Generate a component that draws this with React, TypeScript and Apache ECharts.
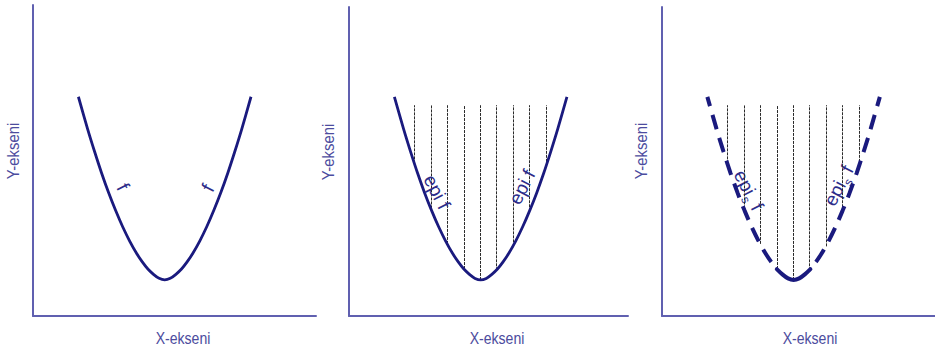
import React, { useEffect, useRef } from "react";
import * as echarts from "echarts";

// Shared convex function f (same in all three panels)
const curveX = [1.62, 1.95, 2.2, 2.45, 2.7, 2.95, 3.2, 3.45, 3.7, 3.9, 4.1, 4.3, 4.5, 4.7, 4.9, 5.1, 5.3, 5.5, 5.7, 5.95, 6.2, 6.45, 6.7, 6.95, 7.2, 7.45, 7.78];
const curveY = [7.05, 6.01, 5.28, 4.59, 3.96, 3.39, 2.87, 2.41, 2.01, 1.74, 1.51, 1.34, 1.21, 1.16, 1.21, 1.34, 1.51, 1.74, 2.01, 2.41, 2.87, 3.39, 3.96, 4.59, 5.28, 6.01, 7.05];

// Hatching of the epigraph (vertical dotted lines)
const hatchX = [2.33, 2.92, 3.5, 4.1, 4.68, 5.26, 5.85, 6.44, 7.04];
const hatchBottom = [4.91, 3.46, 2.32, 1.51, 1.16, 1.47, 2.24, 3.37, 4.83];
const hatchTop = 6.78;

// Solid bottom piece of the dashed curve in panel 3 (indices into curve arrays)
const bottomStart = 10;
const bottomEnd = 16;

const xAxisName = "X-ekseni";
const yAxisName = "Y-ekseni";

const CURVE = "#1a1a7e";
const AXIS = "#6060b0";
const NAME = "#4c4c9e";
const LABEL = "#2c2c8a";
const FONT = "'Liberation Sans', Arial, sans-serif";

const pts = (from: number, to: number) => {
  const out: number[][] = [];
  for (let i = from; i <= to; i++) out.push([curveX[i], curveY[i]]);
  return out;
};

export default function App() {
  const ref = useRef<HTMLDivElement>(null);

  useEffect(() => {
    if (!ref.current) return;
    const chart = echarts.init(ref.current, undefined, { renderer: "svg" });

    const grids = [
      { left: 33, top: 5, width: 283, height: 311 },
      { left: 349, top: 7, width: 279, height: 309 },
      { left: 662, top: 7, width: 273, height: 309 },
    ];
    const xMax = [10.1, 9.96, 9.75];
    const yMax = [10, 9.94, 9.94];

    const xAxes = grids.map((_, i) => ({
      type: "value",
      gridIndex: i,
      min: 0,
      max: xMax[i],
      axisLine: { show: true, onZero: false, lineStyle: { color: AXIS, width: 2 } },
      axisTick: { show: false },
      axisLabel: { show: false },
      splitLine: { show: false },
    }));
    const yAxes = grids.map((_, i) => ({
      type: "value",
      gridIndex: i,
      min: 0,
      max: yMax[i],
      axisLine: { show: true, onZero: false, lineStyle: { color: AXIS, width: 2 } },
      axisTick: { show: false },
      axisLabel: { show: false },
      splitLine: { show: false },
    }));

    const hatchData = hatchX.map((x, i) => ({ coords: [[x, hatchBottom[i]], [x, hatchTop]] }));
    const hatchSeries = (idx: number) => ({
      type: "lines",
      coordinateSystem: "cartesian2d",
      xAxisIndex: idx,
      yAxisIndex: idx,
      z: 1,
      silent: true,
      lineStyle: { color: "#2a2a2a", width: 1, type: [3, 1], opacity: 1 },
      data: hatchData,
    });

    const curveSeries = (idx: number, data: number[][], style: any) => ({
      type: "line",
      xAxisIndex: idx,
      yAxisIndex: idx,
      z: 3,
      smooth: 0.3,
      showSymbol: false,
      silent: true,
      lineStyle: style,
      data,
    });

    const leftDashed = pts(0, bottomStart).reverse();
    const rightDashed = pts(bottomEnd, curveX.length - 1);

    const series = [
      curveSeries(0, pts(0, curveX.length - 1), { color: CURVE, width: 2.8 }),
      hatchSeries(1),
      curveSeries(1, pts(0, curveX.length - 1), { color: CURVE, width: 2.8 }),
      hatchSeries(2),
      curveSeries(2, pts(bottomStart, bottomEnd), { color: CURVE, width: 4, cap: "round" }),
      curveSeries(2, leftDashed, { color: CURVE, width: 4, type: [15, 9], dashOffset: 15 }),
      curveSeries(2, rightDashed, { color: CURVE, width: 4, type: [15, 9], dashOffset: 15 }),
    ];

    const nameText = (text: string, x: number, y: number, rotation: number, scale: number) => ({
      type: "text",
      x,
      y,
      rotation,
      scaleX: scale,
      silent: true,
      style: {
        text,
        fill: NAME,
        fontSize: 16,
        fontFamily: FONT,
        textAlign: "center",
        textVerticalAlign: "middle",
      },
    });

    const label = (text: string, x: number, y: number, rotation: number) => ({
      type: "text",
      x,
      y,
      rotation,
      silent: true,
      z: 10,
      style: {
        text,
        fill: LABEL,
        fontSize: 19,
        fontFamily: FONT,
        textAlign: "center",
        textVerticalAlign: "middle",
      },
    });

    const subLabel = (x: number, y: number, rotation: number) => ({
      type: "group",
      x,
      y,
      rotation,
      silent: true,
      z: 10,
      children: [
        {
          type: "text",
          x: -22,
          y: 0,
          style: { text: "epi", fill: LABEL, fontSize: 19, fontFamily: FONT, textAlign: "left", textVerticalAlign: "middle" },
        },
        {
          type: "text",
          x: 3.5,
          y: 7,
          style: { text: "s", fill: LABEL, fontSize: 12, fontFamily: FONT, textAlign: "left", textVerticalAlign: "middle" },
        },
        {
          type: "text",
          x: 10,
          y: 0,
          style: { text: " f", fill: LABEL, fontSize: 19, fontFamily: FONT, textAlign: "left", textVerticalAlign: "middle" },
        },
      ],
    });

    const tilt = 1.1;

    const graphic = [
      nameText(yAxisName, 13, 151, Math.PI / 2, 0.93),
      nameText(yAxisName, 328, 152, Math.PI / 2, 0.93),
      nameText(yAxisName, 641, 151, Math.PI / 2, 0.93),
      nameText(xAxisName, 183, 338, 0, 0.88),
      nameText(xAxisName, 497, 338, 0, 0.88),
      nameText(xAxisName, 810, 338, 0, 0.88),
      label("f", 123, 187, -tilt),
      label("f", 208, 188, tilt),
      label("epi f", 437, 192, -tilt),
      label("epi f", 522, 187, tilt),
      subLabel(749, 191, -tilt),
      subLabel(839, 185, tilt),
    ];

    chart.setOption({
      animation: false,
      backgroundColor: "#ffffff",
      grid: grids,
      xAxis: xAxes,
      yAxis: yAxes,
      series,
      graphic,
    });

    return () => chart.dispose();
  }, []);

  return (
    <div
      ref={ref}
      style={{ position: "absolute", left: 0, top: 0, width: 935, height: 349, background: "#fff" }}
    />
  );
}
